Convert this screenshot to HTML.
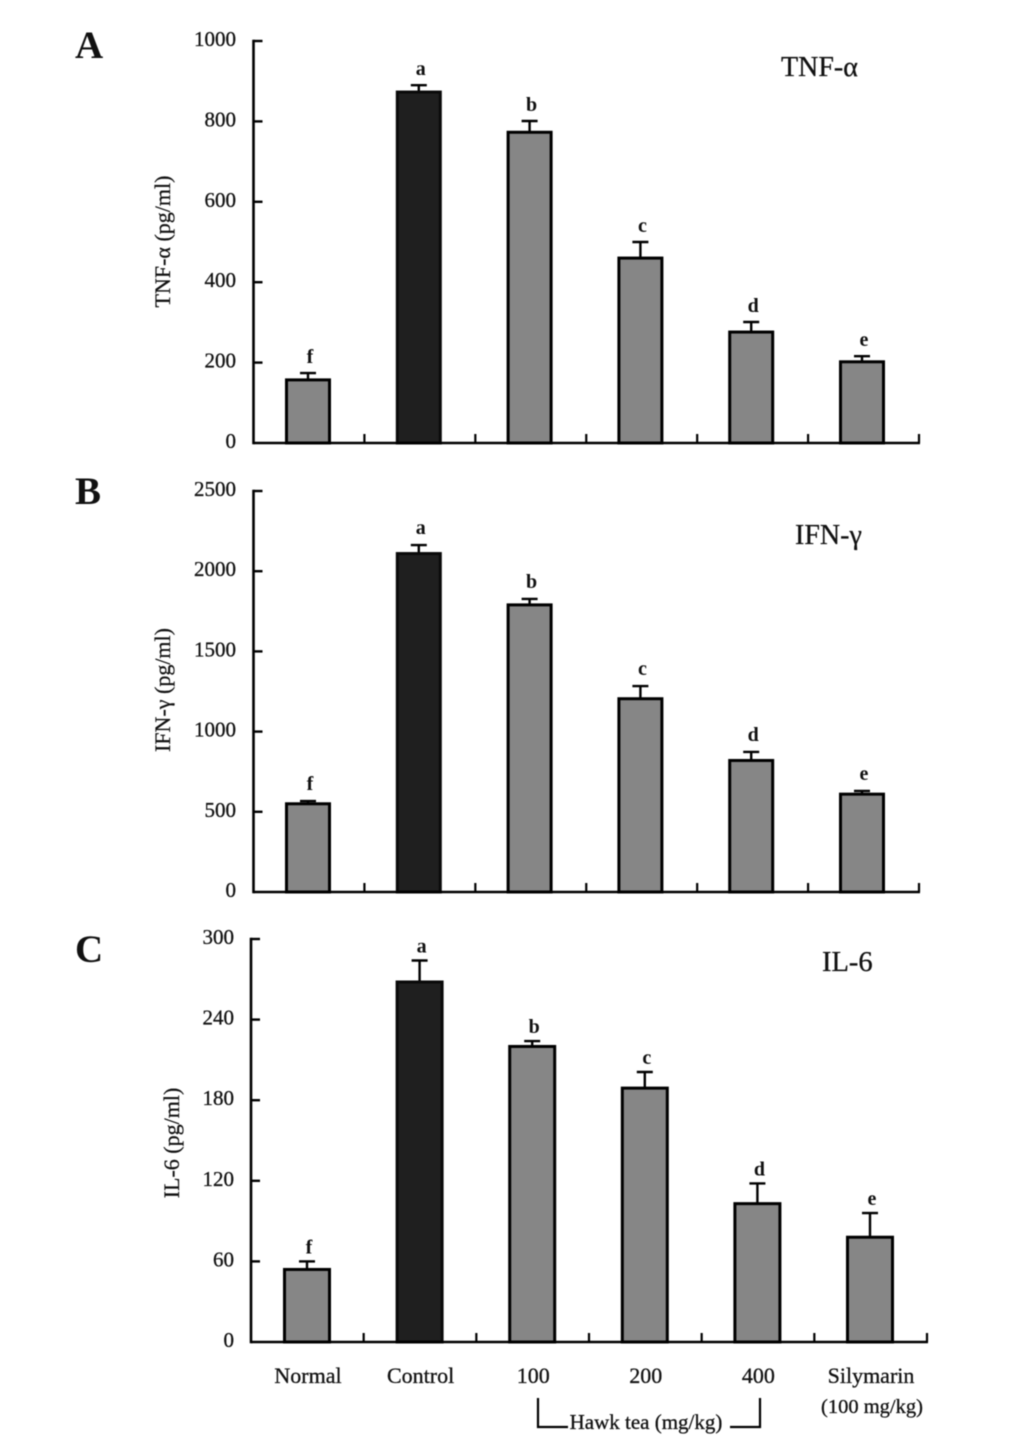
<!DOCTYPE html>
<html>
<head>
<meta charset="utf-8">
<title>Cytokine bar charts</title>
<style>
html,body{margin:0;padding:0;background:#fff;}
svg{display:block;filter:blur(0.4px);}
text{font-family:"Liberation Serif",serif;fill:#111;}
</style>
</head>
<body>
<svg id="chart" width="1033" height="1440" viewBox="0 0 1033 1440" xmlns="http://www.w3.org/2000/svg"></svg>
<script>
var categories = ['Normal', 'Control', '100', '200', '400', 'Silymarin'];
var sigLetters = ['f', 'a', 'b', 'c', 'd', 'e'];

var tnfValues = [157, 873, 773, 460, 276, 202];
var tnfErrors = [17, 17, 28, 40, 25, 14];
var tnfTicks = [0, 200, 400, 600, 800, 1000];

var ifnValues = [550, 2110, 1790, 1205, 820, 610];
var ifnErrors = [17, 53, 37, 79, 53, 20];
var ifnTicks = [0, 500, 1000, 1500, 2000, 2500];

var il6Values = [54, 268, 220, 189, 103, 78];
var il6Errors = [6, 16, 4, 12, 15, 18];
var il6Ticks = [0, 60, 120, 180, 240, 300];

var svg = document.getElementById('chart');
var NS = 'http://www.w3.org/2000/svg';

function make(tag, parent, attrs, txt) {
  var el = document.createElementNS(NS, tag);
  for (var k in attrs) el.setAttribute(k, attrs[k]);
  if (txt !== undefined) el.textContent = txt;
  parent.appendChild(el);
  return el;
}

function drawPanel(p) {
  var g = make('g', svg, {});
  
  

  var maxV = p.ticks[p.ticks.length - 1];
  var yScale = function (v) { return p.bottom - (v / maxV) * (p.bottom - p.top); };
  var tickStep = (p.right - p.left) / p.values.length;
  var xCenter = function (i) { return p.firstCenter + p.barStep * i; };

  var letter = make('text', g, {x: p.letterX, y: p.letterY, 'font-size': 39, 'font-weight': 'bold'}, p.letter);
  
  

  var title = make('text', g, {x: p.titleX, y: p.titleY, 'font-size': p.titleSize, stroke: '#111', 'stroke-width': 0.3}, p.title);
  
  

  var yt = make('text', g, {transform: 'translate(' + p.yTitleX + ',' + p.yTitleY + ') rotate(-90)', 'text-anchor': 'middle', 'font-size': 22, stroke: '#111', 'stroke-width': 0.25}, p.yTitle);
  
  

  p.values.forEach(function (v, i) {
    var cx = xCenter(i);
    var w = p.barWidth;
    var y = yScale(v);
    var capY = yScale(v + p.errors[i]);

    var stem = make('line', g, {x1: cx, x2: cx, y1: y, y2: capY, stroke: '#000', 'stroke-width': 2.4});
    
    

    var cap = make('line', g, {x1: cx - 8, x2: cx + 8, y1: capY, y2: capY, stroke: '#000', 'stroke-width': 2.4});
    
    

    var bar = make('rect', g, {x: cx - w / 2, y: y, width: w, height: p.bottom - y, fill: i === 1 ? '#1f1f1f' : '#868686', stroke: i === 1 ? '#0a0a0a' : '#000', 'stroke-width': 3});
    
    

    var sig = make('text', g, {x: cx + 2, y: capY - p.sigGap, 'text-anchor': 'middle', 'font-size': 20, 'font-weight': 'bold'}, sigLetters[i]);
    
    
  });

  var yAxis = make('line', g, {x1: p.left, x2: p.left, y1: p.top - 1.2, y2: p.bottom + 1.2, stroke: '#000', 'stroke-width': 2.6});
  
  

  var xAxis = make('line', g, {x1: p.left, x2: p.right + 1, y1: p.bottom, y2: p.bottom, stroke: '#000', 'stroke-width': 2.6});
  
  

  p.ticks.forEach(function (t) {
    var y = yScale(t);
    if (t !== 0) {
      var tick = make('line', g, {x1: p.left, x2: p.left + 9, y1: y, y2: y, stroke: '#000', 'stroke-width': 2.4});
      
      
    }
    var lab = make('text', g, {x: p.tickLabelX, y: y + 5, 'text-anchor': 'end', 'font-size': 21, stroke: '#111', 'stroke-width': 0.3}, String(t));
    
    
  });

  p.values.forEach(function (v, i) {
    var x = p.left + tickStep * (i + 1);
    var tick = make('line', g, {x1: x, x2: x, y1: p.bottom, y2: p.bottom - 9, stroke: '#000', 'stroke-width': 2.2});
    
    
  });

  return xCenter;
}

drawPanel({id: 'tnf', letter: 'A', letterX: 75, letterY: 58, title: 'TNF-α', titleX: 781, titleY: 76, titleSize: 28,
  yTitle: 'TNF-α (pg/ml)', yTitleX: 170, yTitleY: 241.5, left: 253.5, right: 919, top: 41, bottom: 443, tickLabelX: 236,
  firstCenter: 308, barStep: 110.8, barWidth: 43, sigGap: 10, values: tnfValues, errors: tnfErrors, ticks: tnfTicks});

drawPanel({id: 'ifn', letter: 'B', letterX: 75, letterY: 504, title: 'IFN-γ', titleX: 795, titleY: 544, titleSize: 28,
  yTitle: 'IFN-γ (pg/ml)', yTitleX: 170, yTitleY: 690, left: 253.5, right: 919, top: 491, bottom: 892, tickLabelX: 236,
  firstCenter: 308, barStep: 110.8, barWidth: 43, sigGap: 11, values: ifnValues, errors: ifnErrors, ticks: ifnTicks});

var xC = drawPanel({id: 'il6', letter: 'C', letterX: 75, letterY: 962, title: 'IL-6', titleX: 822, titleY: 971, titleSize: 28.5,
  yTitle: 'IL-6 (pg/ml)', yTitleX: 179, yTitleY: 1143, left: 251, right: 927, top: 939, bottom: 1342, tickLabelX: 234,
  firstCenter: 307, barStep: 112.6, barWidth: 45, sigGap: 8, values: il6Values, errors: il6Errors, ticks: il6Ticks});

categories.forEach(function (c, i) {
  var t = make('text', svg, {x: xC(i) + 1, y: 1383, 'text-anchor': 'middle', 'font-size': 22, stroke: '#111', 'stroke-width': 0.3}, c);
  
  
});

var sub = make('text', svg, {x: 872, y: 1413, 'text-anchor': 'middle', 'font-size': 20.5, stroke: '#111', 'stroke-width': 0.3}, '(100 mg/kg)');



var hawk = make('text', svg, {x: 646, y: 1429, 'text-anchor': 'middle', 'font-size': 21, stroke: '#111', 'stroke-width': 0.3}, 'Hawk tea (mg/kg)');



var brL = make('polyline', svg, {points: '538,1398 538,1427 568,1427', fill: 'none', stroke: '#000', 'stroke-width': 2.2});



var brR = make('polyline', svg, {points: '730,1427 760,1427 760,1398', fill: 'none', stroke: '#000', 'stroke-width': 2.2});


</script>
</body>
</html>
